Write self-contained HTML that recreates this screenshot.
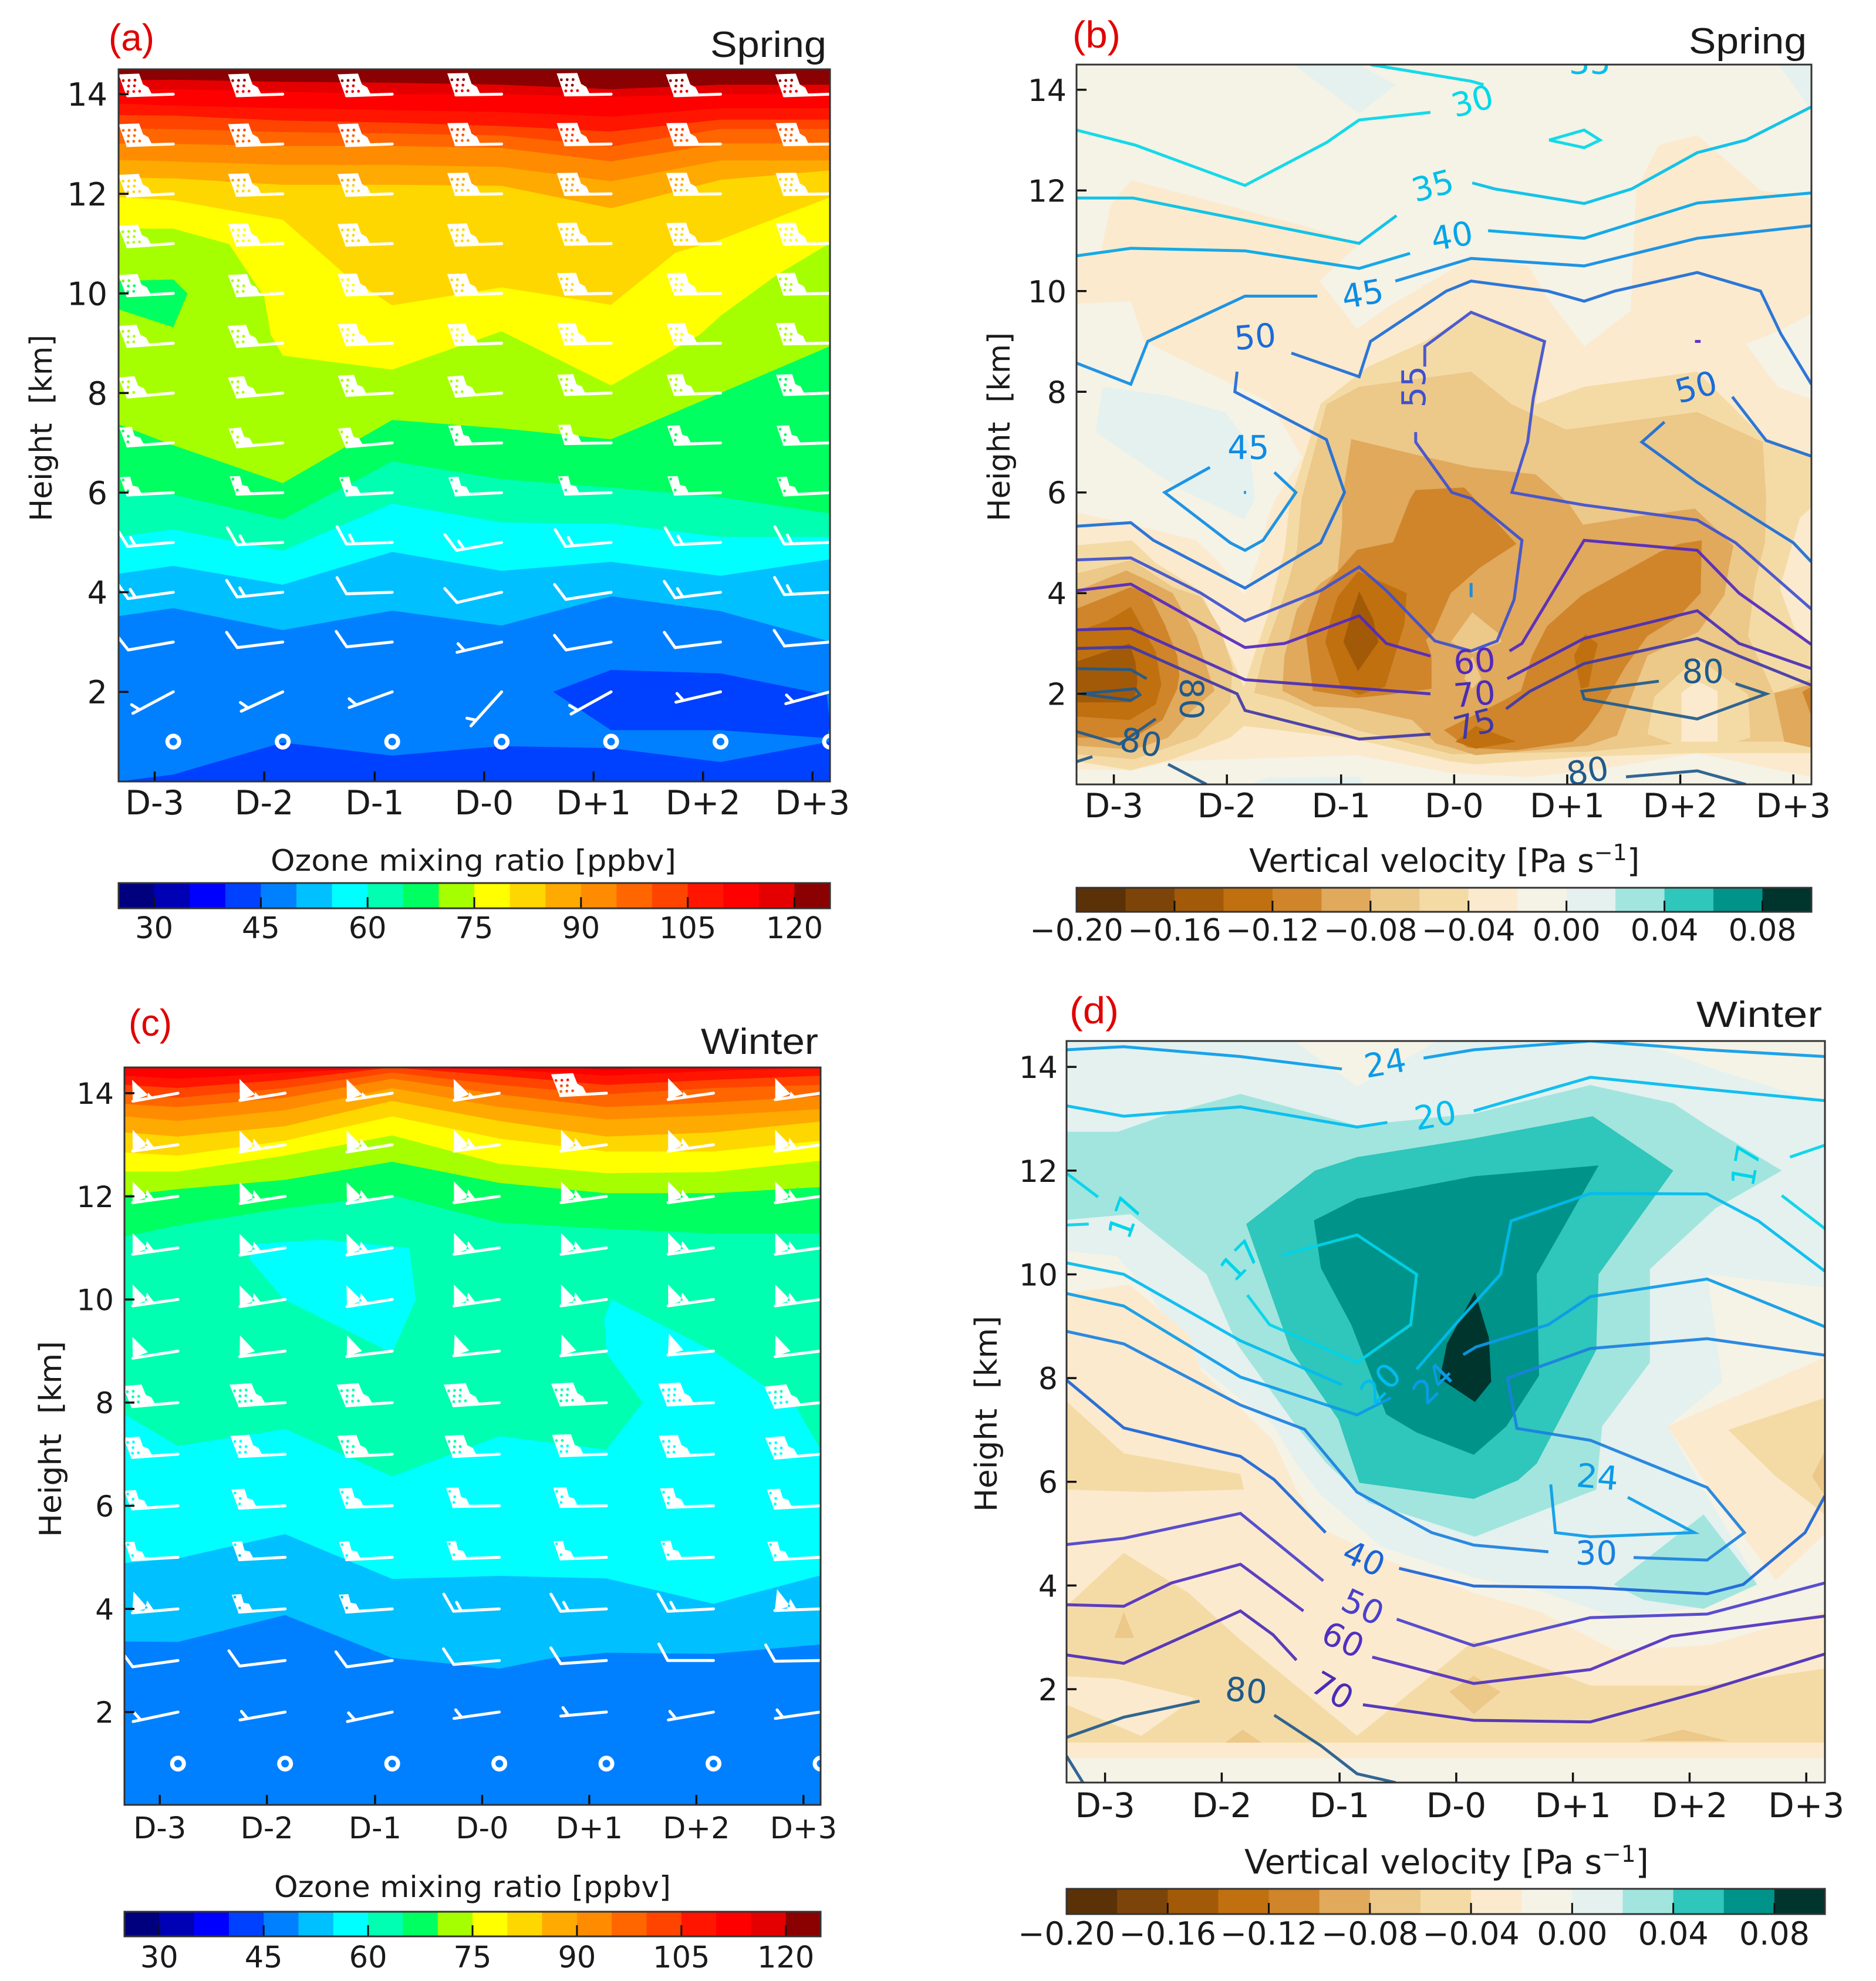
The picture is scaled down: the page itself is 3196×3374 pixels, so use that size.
<!DOCTYPE html>
<html lang="en">
<head>
<meta charset="utf-8">
<title>Ozone mixing ratio and vertical velocity composites</title>
<style>
html,body{margin:0;padding:0;background:#fff}
svg{display:block}
text{font-family:"DejaVu Sans","Liberation Sans",sans-serif;fill:#1a1a1a}
.cal{font-family:"Liberation Sans",sans-serif}
.tag{font-family:"Liberation Sans",sans-serif;fill:#e00000}
</style>
</head>
<body>
<svg id="figure" xmlns="http://www.w3.org/2000/svg" width="3196" height="3374" viewBox="0 0 3196 3374">
<rect width="3196" height="3374" fill="#fff"/>
<defs id="clips"></defs>
<g id="panel-a"></g>
<g id="panel-b"></g>
<g id="panel-c"></g>
<g id="panel-d"></g>

<text class="tag" x="185" y="86" font-size="64" textLength="78" lengthAdjust="spacingAndGlyphs">(a)</text>
<text class="tag" x="1827" y="81" font-size="64" textLength="82" lengthAdjust="spacingAndGlyphs">(b)</text>
<text class="tag" x="219" y="1764" font-size="64" textLength="74" lengthAdjust="spacingAndGlyphs">(c)</text>
<text class="tag" x="1822" y="1743" font-size="64" textLength="84" lengthAdjust="spacingAndGlyphs">(d)</text>

<text class="cal" x="1210" y="97" font-size="62" textLength="198" lengthAdjust="spacingAndGlyphs">Spring</text>
<text class="cal" x="2877" y="91" font-size="62" textLength="201" lengthAdjust="spacingAndGlyphs">Spring</text>
<text class="cal" x="1194" y="1795" font-size="62" textLength="200" lengthAdjust="spacingAndGlyphs">Winter</text>
<text class="cal" x="2890" y="1749" font-size="62" textLength="214" lengthAdjust="spacingAndGlyphs">Winter</text>

<text transform="translate(88,729) rotate(-90)" text-anchor="middle" font-size="52" textLength="318" lengthAdjust="spacingAndGlyphs">Height&#160;&#160;[km]</text>
<text transform="translate(1720,727) rotate(-90)" text-anchor="middle" font-size="52" textLength="322" lengthAdjust="spacingAndGlyphs">Height&#160;&#160;[km]</text>
<text transform="translate(104,2451) rotate(-90)" text-anchor="middle" font-size="52" textLength="334" lengthAdjust="spacingAndGlyphs">Height&#160;&#160;[km]</text>
<text transform="translate(1698,2408) rotate(-90)" text-anchor="middle" font-size="52" textLength="334" lengthAdjust="spacingAndGlyphs">Height&#160;&#160;[km]</text>

<text x="461" y="1483" font-size="50" textLength="691" lengthAdjust="spacingAndGlyphs">Ozone mixing ratio [ppbv]</text>
<text x="467" y="3231" font-size="50" textLength="676" lengthAdjust="spacingAndGlyphs">Ozone mixing ratio [ppbv]</text>
<text x="2128" y="1485" font-size="55">Vertical velocity [Pa s<tspan dy="-20" font-size="38">−1</tspan><tspan dy="20">]</tspan></text>
<text x="2120" y="3191" font-size="57">Vertical velocity [Pa s<tspan dy="-20" font-size="39">−1</tspan><tspan dy="20">]</tspan></text>
</svg>

<script>
// ---- shared axis data ----
const dayLabels = ['D-3','D-2','D-1','D-0','D+1','D+2','D+3'];
const dayTickAt = [0.83,1.83,2.84,3.84,4.84,5.84,6.84];
const heightTicks = [2,4,6,8,10,12,14];
const columnDays = [0.5,1,2,3,4,5,6,7];
const barbDays = [1,2,3,4,5,6,7];
const barbHeights = [1,2,3,4,5,6,7,8,9,10,11,12,13,14];

// ---- colour scales ----
const ozoneLevels = [25,30,35,40,45,50,55,60,65,70,75,80,85,90,95,100,105,110,115,120,125];
const ozoneColors = ['#00007f','#0000b4','#0000ff','#0040ff','#0080ff','#00c0ff','#00ffff','#00ffb0','#00ff60','#a6ff00','#ffff00','#ffd700','#ffaa00','#ff8c00','#ff6600','#ff4400','#ff1500','#ff0000','#e40000','#8b0000'];
const ozoneCbarTicks = [30,45,60,75,90,105,120];
const omegaLevels = [-0.2,-0.18,-0.16,-0.14,-0.12,-0.1,-0.08,-0.06,-0.04,-0.02,0,0.02,0.04,0.06,0.08,0.1];
const omegaColors = ['#5b3107','#7d440a','#a35a08','#c0700f','#d0852b','#e0a95c','#ecc889','#f4dba6','#fbeace','#f5f2e6','#e4f1ef','#a2e5de','#2fc6bb','#00938a','#00352e'];
const omegaCbarTicks = [-0.2,-0.16,-0.12,-0.08,-0.04,0,0.04,0.08];

// ---- (a) spring ozone: height of each band's upper edge ----
const springOzoneEdges = [
 [120,[14.5,14.5,14.5,14.5,14.5,14.5,14.5,14.5]],
 [115,[14.28,14.29,14.25,14.23,14.19,14.1,14.19,14.19]],
 [110,[14.09,14.1,14.05,14,14,13.95,14,14]],
 [105,[13.81,13.77,13.72,13.68,13.64,13.55,13.72,13.72]],
 [100,[13.58,13.57,13.47,13.43,13.36,13.25,13.49,13.49]],
 [95,[13.31,13.3,13.24,13.21,13.17,12.95,13.3,13.3]],
 [90,[13.01,13,12.96,12.96,12.92,12.65,13.01,13.01]],
 [85,[12.68,12.65,12.58,12.58,12.54,12.25,12.67,12.67]],
 [80,[12.32,12.31,12.18,12.18,12.16,11.71,12.28,12.47]],
 [75,[[0.5,11.93],[1,11.87],[2,11.48],[2.57,10.38],[3,9.76],[4,10.12],[5,9.77],[5.59,10.82],[6,11.08],[7,11.93]]],
 [70,[[0.5,11.3],[1,11.3],[1.51,10.99],[1.83,9.93],[1.89,9.17],[2,8.75],[3,8.47],[4,9.24],[5,8.15],[5.81,9.17],[6,9.55],[6.52,10.38],[7,11.01]]],
 [65,[7.37,6.95,6.19,7.46,7.29,7.07,8,8.94]],
 [60,[5.99,5.96,5.46,6.63,6.27,6.1,5.91,5.58]],
 [55,[5.11,5.26,4.83,5.78,5.4,5.38,5.11,5.11]],
 [50,[4.37,4.53,4.15,4.81,4.43,4.61,4.33,4.66]],
 [45,[3.52,3.68,3.24,3.63,3.33,3.92,3.62,3.01]],
 [40,[0.2,0.34,0.98,0.72,0.91,0.87,0.59,1]]
];
const springOzoneIslands = [
 [65,[[0.5,10.25],[1,10.28],[1.13,10],[1,9.32],[0.5,9.68]]],
 [40,[[4.47,2],[5,2.44],[6,2.37],[6.97,1.94],[7,1.35],[6.97,1.07],[6,1.23],[5,1.23]]]
];
const springBarbSpeeds = [
 [0,0,0,0,0,0,0],[5,5,5,5,5,5,5],[10,10,10,5,10,10,10],[15,15,10,10,10,15,15],[15,15,15,15,15,15,15],
 [110,110,110,110,110,110,110],[125,125,125,125,125,125,125],[150,150,150,150,150,150,150],[165,165,165,165,165,165,165],
 [170,170,170,170,170,170,170],[175,175,175,175,175,175,175],[180,180,180,180,180,180,180],[180,180,180,180,180,180,180],[180,180,180,180,180,180,180]
];
const springBarbTilts = [
 [0,0,0,0,0,0,0],[28,25,20,48,29,13,15],[10,7,6,13,10,7,5],[8,6,2,13,9,7,3],[5,3,2,10,5,3,2],
 [3,2,3,3,2,2,3],[4,5,5,2,1,2,2],[5,5,3,4,2,2,2],[4,4,2,2,1,1,1],[3,3,2,2,1,1,1],[4,2,2,2,1,1,1],[3,2,2,1,1,1,1],[2,2,2,1,1,1,1],[2,2,2,1,1,2,2]
];

// ---- (c) winter ozone ----
const winterOzoneEdges = [
 [110,[14.5,14.5,14.5,14.5,14.5,14.5,14.5,14.5]],
 [105,[14.34,14.28,14.4,14.5,14.46,14.34,14.43,14.5]],
 [100,[14.16,14.1,14.26,14.5,14.34,14.16,14.26,14.34]],
 [95,[13.98,13.91,14.1,14.4,14.16,13.98,14.1,14.16]],
 [90,[13.79,13.73,13.91,14.28,13.98,13.73,13.82,13.94]],
 [85,[13.55,13.46,13.67,14.1,13.73,13.49,13.57,13.69]],
 [80,[13.24,13.16,13.36,13.85,13.46,13.16,13.24,13.45]],
 [75,[12.85,12.79,13.08,13.55,13.12,12.87,12.87,13.08]],
 [70,[12.48,12.48,12.79,13.18,12.63,12.45,12.47,12.69]],
 [65,[12.02,12.14,12.32,12.67,12.26,12.06,12.06,12.18]],
 [60,[11.22,11.44,11.77,12.02,11.49,11.37,11.28,11.28]],
 [55,[[0.5,7.77],[1,7.16],[2,7.49],[3,6.57],[4,7.35],[5,7.09],[5.34,8],[5,8.96],[4.98,9.63],[5.05,10],[6,9],[6.54,8.23],[6.77,7.92],[7,7.09]]],
 [50,[4.89,4.98,5.45,4.58,4.64,4.59,4.1,4.65]],
 [45,[[0.5,3.37],[1,3.36],[2,3.88],[3,3.05],[4,2.84],[4.5,3.05],[5,3.15],[6,3.13],[7,3.31]]]
];
const winterOzoneIslands = [
 [55,[[1.66,10.8],[1.74,11.08],[2.35,11.16],[3.16,11],[3.22,10],[3,8.96],[1.99,10]]],
 [115,[[4.7,14.5],[5,14.44],[5.4,14.5]]]
];
const winterBarbSpeeds = [
 [0,0,0,0,0,0,0],[5,5,5,5,5,5,5],[10,10,10,10,10,10,10],[60,105,105,15,15,15,60],[105,110,110,105,105,110,110],
 [120,130,130,125,130,130,130],[150,170,170,170,170,170,170],[170,190,190,190,190,190,190],[50,50,50,50,50,50,50],
 [60,60,60,60,60,60,60],[60,60,60,60,60,60,60],[60,60,60,60,60,60,60],[60,60,60,60,60,60,60],[55,55,55,55,190,55,55]
];
const winterBarbTilts = [
 [0,0,0,0,0,0,0],[12,10,12,8,5,10,8],[8,7,8,5,4,0,1],[5,4,4,3,3,3,2],[3,3,3,2,2,2,3],[4,3,2,1,1,2,3],[4,3,3,3,2,3,5],
 [5,4,4,4,3,3,6],[9,7,7,6,6,5,7],[8,9,9,8,8,8,8],[8,9,9,8,8,8,8],[8,9,9,8,8,8,8],[8,9,9,8,8,8,8],[10,9,9,9,3,8,8]
];

// ---- (b) spring vertical velocity: filled regions, painted in order ----
const springOmegaRegions = [
 [-0.04,[[0.5,10.75],[0.72,10.8],[0.8,11.7],[0.98,12.2],[1.5,11.9],[2,11.6],[2.5,11.3],[3,10.95],[2.65,10.2],[2.98,9.25],[3.3,9.75],[3.99,10.65],[4.5,10.5],[4.65,9.9],[4.99,8.9],[5.4,9.6],[5.45,12],[5.65,12.9],[5.99,13.1],[6.55,12],[7,11.85],[7,0.2],[0.5,0.2]]],
 [-0.02,[[0.5,9.75],[0.98,9.8],[1.1,9],[1.6,8.45],[2.2,7.8],[2.5,6.7],[2.26,5.87],[2.19,5.48],[2.11,4.7],[1.98,3.96],[1.75,4.63],[1.56,5.05],[1,5.36],[0.5,5.6]]],
 [-0.02,[[6.42,8.95],[6.7,9.2],[7,9.55],[7,7.85],[6.7,8.1]]],
 [-0.02,[[0.5,0.2],[0.5,0.5],[0.98,0.48],[1.35,0.66],[1.86,0.7],[2.98,0.78],[3.8,0.43],[4.03,0.4],[4.5,0.35],[5.02,0.47],[5.99,0.82],[6.82,0.43],[7,0.35],[7,0.2]]],
 [0,[[2.42,14.5],[3,13.53],[3.32,14.1],[3,14.5]]],
 [0,[[6.71,14.5],[7,13.6],[7,14.5]]],
 [0,[[0.73,8.1],[0.67,7.2],[1.39,6.1],[1.98,5.47],[2.08,5.87],[2.02,7],[1.81,7.6],[1.28,7.93]]],
 [0,[[2.03,0.2],[2.2,0.33],[3,0.35],[3.04,0.2]]],
 [-0.06,[[0.5,4.95],[0.99,5.05],[1.2,4.6],[1.6,4.04],[1.86,2.76],[1.98,2.14],[2.07,2.76],[2.19,3.54],[2.34,4.86],[2.39,5.87],[2.45,6.25],[2.66,7.76],[3.08,8.5],[3.58,9],[3.99,9.58],[4.64,9],[4.56,7.75],[4.99,8.1],[5.99,8.4],[6.57,7.1],[7,6.75],[7,0.82],[5.99,0.82],[5,0.75],[4.03,0.6],[3.8,0.66],[2.98,1.09],[1.98,1.36],[1.86,1.13],[1.35,0.7],[0.98,0.48],[0.5,0.66]]],
 [-0.04,[[6.9,5.5],[7,5.7],[7,3],[6.85,3.3],[6.72,4.1]]],
 [-0.08,[[0.5,4.39],[0.99,4.66],[1.35,4.12],[1.6,3.93],[1.77,3.3],[1.88,2.53],[1.86,1.83],[1.56,1.13],[1.01,0.7],[0.5,0.8]]],
 [-0.08,[[2.07,2.02],[2.15,2.76],[2.24,3.34],[2.36,4.12],[2.45,4.86],[2.49,5.87],[2.71,7.75],[3,8.1],[3.99,8.4],[4.35,7.75],[4.83,7.25],[5.99,7.6],[6.57,7],[6.6,5.87],[6.59,5.01],[6.5,4.2],[6.44,3.15],[6.67,2],[7,2.3],[7,0.93],[6.76,1.05],[5.99,1.05],[5.02,0.85],[3.82,0.8],[2.98,1.28],[2.34,1.87]]],
 [-0.1,[[0.5,4.04],[0.94,4.45],[1.14,4.24],[1.35,4],[1.56,3.15],[1.72,2.06],[1.52,1.67],[1.31,1.13],[1.01,0.89],[0.5,0.97]]],
 [-0.1,[[2.93,7.06],[3.5,6.75],[3.99,6.5],[4.56,6.36],[4.85,5.79],[4.98,5.36],[5.44,5.52],[5.97,5.68],[6.31,4.94],[6.27,4.51],[6.23,3.96],[6,3.23],[5.55,2.76],[5.42,2.02],[5.28,1.17],[5.02,0.97],[4.03,0.78],[3.82,0.93],[3.68,1.01],[3.47,1.48],[3,1.71],[2.6,1.75],[2.32,2.06],[2.34,2.76],[2.45,3.69],[2.66,4.2],[2.81,4.43],[2.85,5.36],[2.85,5.87]]],
 [-0.1,[[6.67,2.02],[7,2.18],[7,0.93],[6.76,1.05]]],
 [-0.08,[[4,3.62],[4.23,3.2],[4.26,3.03],[4,2.8],[3.81,3.03]]],
 [-0.08,[[4,2.75],[4.08,2.3],[4,2.1],[3.93,2.3]]],
 [-0.06,[[5.61,1.94],[5.99,2.72],[6.44,1.98],[6.46,1.13],[5.99,0.82],[5.55,1.2]]],
 [-0.04,[[5.85,2.02],[5.99,2.25],[6.17,2.05],[6.17,1.05],[5.85,1.05]]],
 [-0.12,[[0.5,3.69],[0.98,4.12],[1.14,4],[1.28,3.38],[1.39,2.76],[1.41,2.37],[1.39,2.1],[1.26,1.48],[1.01,1.13],[0.5,1.13]]],
 [-0.12,[[3.5,6.05],[3.93,6.1],[4.39,4.98],[4.07,4.51],[3.81,4],[3.75,3.69],[3.66,3.23],[3.59,3.07],[3.64,2.76],[3.64,2.1],[3.25,1.98],[2.98,1.92],[2.59,2.06],[2.53,3.15],[2.66,4.04],[2.98,4.86],[3.3,5.01],[3.45,5.87]]],
 [-0.12,[[3.75,1.28],[4.28,1.87],[4.43,2.06],[4.53,2.76],[4.66,3.34],[4.97,3.96],[5.66,4.82],[5.83,4.98],[6.03,5.05],[6.02,4],[5.83,3.54],[5.55,3.15],[5.36,2.56],[5.13,1.67],[5.02,1.32],[4.89,1.05],[4.39,0.88],[3.96,0.93]]],
 [-0.12,[[6.92,2.04],[7,2.14],[7,1.55]]],
 [-0.14,[[0.5,3.23],[0.78,3.46],[0.98,3.73],[1.2,2.84],[1.25,2.18],[1.2,1.79],[0.97,1.48],[0.5,1.55]]],
 [-0.14,[[2.81,3.93],[2.99,4.43],[3.42,4],[3.4,3.38],[3.34,2.95],[3.23,2.14],[3,1.98],[2.83,2.18],[2.7,3.03],[2.75,3.5]]],
 [-0.14,[[5,3.19],[5.11,2.99],[5.07,2.64],[5.03,2.14],[4.96,2.1],[4.9,2.76]]],
 [-0.14,[[3.85,1.05],[4.03,1.36],[4.39,1.05],[4.03,0.91]]],
 [-0.16,[[0.5,2.64],[0.97,3],[1.02,2.64],[1.04,2.25],[1.02,1.98],[0.98,1.83],[0.5,1.83]]],
 [-0.16,[[3,4.04],[3.12,3.5],[3.17,3.03],[2.99,2.45],[2.86,3.03],[2.93,3.58]]]
];
const springLineValues = [30,30,30,35,35,40,40,45,45,50,50,45,50,50,55,55,60,60,70,70,75,75,80,80,80,80,80,80,80,45,60,45];
const springLinePaths = [
 [[3.1,14.5],[3.99,14.17],[4.1,14.1]],
 [[0.5,13.2],[1.02,12.9],[1.99,12.1],[2.71,12.95],[3,13.4],[3.63,13.55]],
 [[4.68,13],[4.99,13.2],[5.13,13],[4.99,12.85],[4.68,13]],
 [[0.5,11.85],[1,11.85],[3,10.95],[3.33,11.5]],
 [[4,12.15],[4.2,12.03],[4.99,11.74],[5.41,12.03],[5.99,12.75],[6.42,13],[7,13.66]],
 [[0.5,10.7],[0.98,10.85],[1.99,10.8],[3,10.45],[3.45,10.75]],
 [[4.14,11.2],[4.99,11.05],[5.99,11.75],[7,11.95]],
 [[3.32,10.2],[3.99,10.65],[4.99,10.5],[5.99,11.05],[7,11.3]],
 [[0.5,8.57],[0.98,8.15],[1.13,9],[1.99,9.9],[2.63,9.9]],
 [[2.4,8.77],[3,8.3],[3.1,9],[3.77,10],[3.99,10.2],[4.67,10],[4.99,9.8],[5.26,10],[5.99,10.37],[6.55,10],[6.73,9.15],[7,8.15]],
 [[1.92,8.4],[1.9,8],[2.71,7.05],[2.87,6],[2.66,5],[1.99,4.1],[1.18,5.05],[0.98,5.4],[0.5,5.33]],
 [[1.68,6.5],[1.28,6],[1.86,5],[1.99,4.85],[2.15,5.05],[2.44,6],[2.25,6.4]],
 [[5.7,7.4],[5.5,7],[5.99,6.2],[6.84,5],[7,4.62]],
 [[6.3,7.9],[6.6,7.03],[7,6.72]],
 [[3.58,8.5],[3.58,8.9],[3.99,9.58],[4.64,9],[4.54,7.88],[4.49,7],[4.35,6],[4.99,5.75],[5.99,5.45],[6.33,5],[7,3.68]],
 [[0.5,4.66],[0.98,4.7],[1.6,4],[1.99,3.45],[2.66,4.05],[3,4.52],[3.24,4.05],[3.67,3.05],[3.99,2.85],[4.22,3.05],[4.37,3.87],[4.44,5.05],[3.99,5.88],[3.82,6],[3.5,7],[3.5,7.2]],
 [[0.5,4.05],[0.98,4.18],[1.6,3.4],[1.99,2.92],[2.34,3],[3,3.55],[3.24,3],[3.63,2.75]],
 [[4.33,2.85],[4.44,3],[4.99,5.05],[5.99,4.85],[6.36,4],[7,2.98]],
 [[0.5,3.27],[0.98,3.3],[1.99,2.28],[3.63,2]],
 [[4.31,2.3],[4.99,3.1],[5.99,3.65],[6.36,3],[7,2.5]],
 [[0.5,2.9],[0.98,2.93],[1.92,2],[1.99,1.67],[3,1.1],[3.63,1.2]],
 [[4.3,1.7],[4.51,2.05],[4.99,2.6],[5.99,3.1],[6.36,2.75],[7,2.17]],
 [[0.54,2],[1.02,2.1],[1.06,1.98],[0.98,1.87],[0.54,2]],
 [[0.5,2.5],[0.98,2.48],[1.12,2.3]],
 [[0.5,1.25],[0.88,1],[1.2,1.5]],
 [[0.5,0.65],[0.64,0.75]],
 [[1.31,0.6],[1.65,0.2]],
 [[5.65,2.25],[4.97,2.05],[4.99,1.9],[5.99,1.5],[6.6,2],[6.33,2.2]],
 [[5.36,0.35],[5.99,0.47],[6.42,0.2]],
 [[3.99,4.2],[3.99,3.92]],
 [[5.97,9],[6.02,9]],
 [[1.98,6],[2,6]]
];
const springLineLabels = [
 ['30',4,13.78,-15,30],['35',3.65,12.1,-15,35],['40',3.82,11.1,-10,40],['45',3.03,9.95,-10,45],['50',2.08,9.1,-5,50],
 ['55',3.48,8.1,-90,55],['45',2.02,6.9,0,45],['50',5.98,8.1,-15,50],['60',4.02,2.65,-5,60],['70',4.02,2,-5,70],
 ['75',4.02,1.4,-15,75],['80',1.52,1.9,90,80],['80',1.07,1.04,10,80],['80',5.02,0.47,-10,80],['80',6.04,2.45,0,80],['35',5.04,14.55,0,35]
];
const springLineColorKeys = [30,35,40,45,50,55,60,70,75,80];
const springLineColors = ['#00d8e8','#00bfe8','#00a4e8','#0c8ce4','#1a6cd8','#3e50d0','#5228c0','#4a2cb8','#4038a8','#1f5a8c'];

// ---- (d) winter vertical velocity ----
const winterOmegaRegions = [
 [0,[[0.5,14.5],[2.45,14.5],[2.99,13.62],[3.68,14.5],[5.4,14.5],[6.06,13.95],[6.99,13.3],[7,11],[7,9.75],[5.99,10],[6.12,7.93],[5.65,7.07],[5.96,5.85],[6.42,4.08],[6.01,3.6],[5.2,3.4],[4.55,3.9],[4,4.15],[3.2,4.75],[2.68,5.75],[2.47,6.35],[2.27,7.1],[1.6,8.3],[1.19,9.7],[0.93,10.35],[0.5,10.45]]],
 [-0.04,[[0.5,9.63],[1.04,9.8],[1.55,8.83],[1.65,8.15],[2.27,6.8],[2.47,5.85],[2.68,5.1],[3.24,4.5],[4,3.85],[4.55,3.5],[5.2,2.75],[6.01,2.85],[7,3.5],[7,0.67],[0.5,0.67]]],
 [-0.04,[[7,8.4],[5.65,7.07],[6.17,5.35],[6.58,4.1],[7,5]]],
 [-0.06,[[0.5,7.55],[0.99,6.55],[1.99,6.15],[2.02,5.85],[1.2,5.8],[0.5,5.85]]],
 [-0.06,[[0.5,3.6],[0.99,4.63],[1.55,3.85],[1.99,2.95],[2.99,1.1],[3.99,2.93],[4.99,2.07],[5.99,2.07],[7,2.4],[7,0.97],[0.5,0.97],[0.5,1.7],[1.14,1.1],[1.6,1.83],[0.93,2.2],[0.5,2.25]]],
 [-0.06,[[6.17,7],[7,7.62],[7,5.37],[6.58,6.1]]],
 [-0.08,[[6.89,6.1],[7,6.6],[7,5.73]]],
 [-0.08,[[0.91,2.99],[0.99,3.49],[1.08,2.99]]],
 [-0.08,[[3.78,1.95],[3.99,2.26],[4.22,1.95],[3.99,1.52]]],
 [-0.08,[[1.86,0.97],[2.01,1.22],[2.17,0.97]]],
 [-0.08,[[5.4,1],[5.78,1.22],[6.17,1]]],
 [0.02,[[0.5,12.75],[0.94,12.75],[1.45,13.15],[1.99,13.48],[2.99,12.87],[3.99,13.1],[4.99,13.65],[5.7,13.3],[5.99,12.87],[6.63,12],[6.06,11.27],[5.5,10.1],[5.5,9.15],[5.5,8.3],[5.09,7.07],[5.04,5.85],[4,4.94],[3.09,5.6],[2.73,6.35],[2.47,7.07],[1.96,8.66],[1.7,10],[1.05,11.16],[0.5,11.05]]],
 [0.02,[[5.19,4.02],[5.96,5.37],[6.42,4.02],[5.96,3.55],[5.45,3.72]]],
 [0.04,[[2.04,10.97],[2.63,12],[2.99,12.26],[3.99,12.62],[5.01,13.05],[5.7,12],[5.06,10],[5.04,8.54],[4.53,6.35],[4.37,6.03],[3.99,5.67],[3.01,5.98],[2.83,7.2],[2.42,8.54]]],
 [0.06,[[2.62,11.04],[2.99,11.46],[3.99,11.89],[5.06,12.1],[4.53,10],[4.55,8.05],[4.27,7.07],[3.99,6.52],[3.5,6.95],[3.24,7.3],[2.94,9.03],[2.68,10.12]]],
 [0.08,[[4,9.66],[4.12,8.78],[4.14,7.93],[4,7.54],[3.7,7.99],[3.76,8.66]]]
];
const winterLineValues = [24,24,20,20,17,17,17,17,17,20,20,24,24,30,30,24,40,40,50,50,60,60,70,70,80,80,80];
const winterLinePaths = [
 [[0.5,14.33],[0.99,14.39],[1.99,14.2],[2.86,13.96]],
 [[3.56,14.17],[3.99,14.33],[4.99,14.5],[5.99,14.33],[7,14.2]],
 [[0.5,13.25],[0.99,13.05],[1.99,13.23],[2.99,12.84],[3.25,12.93]],
 [[3.99,13.15],[4.99,13.8],[5.99,13.57],[7,13.35]],
 [[0.5,11.95],[0.77,11.49]],
 [[0.5,10.95],[0.69,10.97]],
 [[2.35,10.37],[2.99,10.76],[3.5,10],[3.45,9.03],[2.99,8.3],[2.24,9.03],[2.05,9.6]],
 [[6.7,12.26],[7,12.49]],
 [[6.63,11.52],[7,10.88]],
 [[0.5,10.22],[0.99,10],[1.99,8.72],[2.86,7.87]],
 [[3.5,8.17],[3.83,9.03],[4.22,10],[4.31,11.03],[4.99,11.56],[5.99,11.55],[6.43,11.03],[7,10.06]],
 [[0.5,9.63],[0.99,9.39],[1.99,8.02],[2.99,7.29],[3.28,7.62]],
 [[3.9,8.45],[4.01,8.6],[4.63,9.03],[4.99,9.57],[5.99,9.91],[7,8.99]],
 [[0.5,8.9],[0.99,8.66],[1.99,7.48],[2.54,7.01],[2.99,5.8],[3.63,5.02],[3.99,4.78],[4.63,4.65]],
 [[5.36,4.54],[5.99,4.49],[6.31,5.02],[5.99,5.89],[4.99,6.8],[4.36,7.03],[4.28,8],[4.99,8.57],[5.99,8.76],[7,8.44]],
 [[4.65,5.95],[4.69,5.02],[4.99,4.94],[5.88,5.02],[5.31,5.7]],
 [[0.5,7.96],[0.99,7.04],[1.99,6.49],[2.28,6.04],[2.72,5.02]],
 [[3.35,4.33],[3.99,3.99],[4.99,3.96],[5.99,3.84],[6.3,4.02],[6.83,5.02],[7,5.73]],
 [[0.5,4.79],[0.99,4.91],[1.99,5.39],[2.7,4.09]],
 [[3.33,3.35],[3.99,2.84],[4.99,3.38],[5.99,3.45],[7,4.05]],
 [[0.5,3.63],[0.99,3.6],[1.4,4.05],[1.99,4.41],[2.53,3.51]],
 [[3.12,2.62],[3.99,2.11],[4.99,2.38],[5.68,3.02],[7,3.41]],
 [[0.5,2.66],[0.99,2.5],[1.99,3.51],[2.27,3.05],[2.47,2.56]],
 [[3.04,1.7],[3.99,1.4],[4.99,1.37],[5.99,1.98],[7,2.68]],
 [[0.5,1.07],[0.99,1.46],[1.64,1.77]],
 [[2.28,1.5],[2.68,0.91],[2.99,0.37],[3.32,0.2]],
 [[0.5,0.71],[0.64,0.2]]
];
const winterLineLabels = [
 ['24',3.23,14.08,-10,24],['20',3.66,13.07,-10,20],['17',1,11.1,-70,17],['17',1.99,10.27,-45,17],['17',6.32,12.1,-80,17],
 ['20',3.19,7.9,-45,20],['24',3.64,7.9,-45,24],['24',5.05,6.1,5,24],['30',5.04,4.63,0,30],['40',3.05,4.53,25,40],
 ['50',3.04,3.59,25,50],['60',2.87,2.96,25,60],['70',2.78,1.98,30,70],['80',2.04,1.98,5,80]
];
const winterLineColorKeys = [17,20,24,30,40,50,60,70,80];
const winterLineColors = ['#00d4ea','#00bcf0','#0a9be8','#1a80e0','#1a64d8','#4a40cc','#5030c0','#4a2cb8','#1f5a8c'];

// ---- drawing ----
const NS = 'http://www.w3.org/2000/svg';
function make(parent, tag, attrs){
  const el = document.createElementNS(NS, tag);
  for (const k in attrs) el.setAttribute(k, attrs[k]);
  parent.appendChild(el);
  return el;
}
function scales(box){
  return {
    x: d => box.left + (d-0.5)/6.5*(box.right-box.left),
    y: h => box.top + (14.5-h)/14.3*(box.bottom-box.top)
  };
}
function pathOf(pts, s, close){
  return pts.map((p,i)=>(i?'L':'M')+s.x(p[0]).toFixed(1)+' '+s.y(p[1]).toFixed(1)).join('')+(close?'Z':'');
}
function toPoints(edge){
  return typeof edge[0]==='number' ? edge.map((h,i)=>[columnDays[i],h]) : edge;
}
function drawEdges(g, s, box, edges, islands){
  const top = edges[0][0];
  const bg = make(g,'rect',{x:box.left,y:box.top,width:box.right-box.left,height:box.bottom-box.top,fill:ozoneColors[ozoneLevels.indexOf(top)]});
  
  
  edges.slice(1).forEach(e=>{
    const pts = toPoints(e[1]);
    const closed = pts.concat([[7,0.2],[0.5,0.2]]);
    const band = make(g,'path',{d:pathOf(closed,s,true),fill:ozoneColors[ozoneLevels.indexOf(e[0])]});
    
    
  });
  islands.forEach(e=>{
    const isle = make(g,'path',{d:pathOf(e[1],s,true),fill:ozoneColors[ozoneLevels.indexOf(e[0])]});
    
    
  });
}
function omegaColor(v){
  let best = 0;
  omegaLevels.forEach((l,i)=>{ if(Math.abs(l-v)<Math.abs(omegaLevels[best]-v)) best=i; });
  return omegaColors[best];
}
function drawRegions(g, s, box, regions){
  const bg = make(g,'rect',{x:box.left,y:box.top,width:box.right-box.left,height:box.bottom-box.top,fill:omegaColor(-0.02)});
  
  
  regions.forEach(r=>{
    const reg = make(g,'path',{d:pathOf(r[1],s,true),fill:omegaColor(r[0])});
    
    
  });
}
function drawContours(g, s, values, paths, labels, keys, colors){
  const colorOf = v => colors[keys.indexOf(v)];
  paths.forEach((p,i)=>{
    const line = make(g,'path',{d:pathOf(p,s,false),fill:'none',stroke:colorOf(values[i]),'stroke-width':5,'stroke-linejoin':'miter','stroke-opacity':0.92});
    
    
  });
  labels.forEach(l=>{
    const t = make(g,'text',{x:0,y:0,'text-anchor':'middle','font-size':56,transform:'translate('+s.x(l[1]).toFixed(1)+','+s.y(l[2]).toFixed(1)+') rotate('+l[3]+') translate(0,20)',style:'fill:'+colorOf(l[4])});
    t.textContent = l[0];
    
    
  });
}
function drawBarbs(g, s, speeds, tilts){
  const white = '#ffffff';
  barbHeights.forEach((h,r)=>{
    barbDays.forEach((d,c)=>{
      const sp = speeds[r][c], th = tilts[r][c]*Math.PI/180;
      const tx = s.x(d), ty = s.y(h);
      if (sp < 3){
        const ring = make(g,'circle',{cx:tx,cy:ty,r:10,fill:'none',stroke:white,'stroke-width':7});
        
        
        return;
      }
      const ux = Math.cos(th), uy = -Math.sin(th);   // along the shaft, root to tip
      const nx = uy, ny = -ux;                       // perpendicular, pointing up
      const L = 78;
      const rx = tx-ux*L, ry = ty-uy*L;
      const at = (a,b)=>[rx+ux*a+nx*b, ry+uy*a+ny*b];
      const seg = (p)=>p.map((q,i)=>(i?'L':'M')+q[0].toFixed(1)+' '+q[1].toFixed(1)).join('');
      let d1 = 'M'+rx.toFixed(1)+' '+ry.toFixed(1)+'L'+tx.toFixed(1)+' '+ty.toFixed(1);
      let fillD = '';
      if (sp === 5) d1 += seg([at(13,0),at(5,14)]);
      else if (sp === 10) d1 += seg([at(0,0),at(-15,28)]);
      else if (sp === 15) d1 += seg([at(0,0),at(-15,30)]) + seg([at(13,0),at(6,15)]);
      else if (sp >= 50 && sp < 100){
        fillD = seg([at(0,0),at(5,36),at(27,6)])+'Z';
        if (sp >= 60) fillD += seg([at(20,0),at(27,19),at(37,1)])+'Z';
        else if (sp === 55) fillD += seg([at(24,0),at(28,10),at(34,1)])+'Z';
      } else if (sp >= 100){
        const k = (sp-100)/80;
        const w = 14+20*k, hh = 30+7*Math.min(k,1), lean = -11-3*k;
        const tw = w-8;
        const pts = [at(-2,0),at(w+8,0),at(w+2,Math.min(13,hh)),at(tw+1,hh*0.5),at(tw+lean+9,hh),at(lean,hh)];
        fillD = seg(pts)+'Z';
        for (let row=0; row<3; row++){
          for (let col=0; col<4; col++){
            const fy = 7+row*9.5;
            const fx = (lean/hh)*fy + 3.5 + col*10 + (row%2)*5;
            if (fx > tw+(lean/hh)*fy-1 || fy > hh-3) continue;
            const p = at(fx,fy);
            fillD += 'M'+(p[0]-2.4).toFixed(1)+' '+p[1].toFixed(1)+'a2.4 2.4 0 1 0 4.8 0a2.4 2.4 0 1 0 -4.8 0Z';
          }
        }
      }
      const shaft = make(g,'path',{d:d1,fill:'none',stroke:white,'stroke-width':5,'stroke-linecap':'round','stroke-linejoin':'round'});
      
      
      if (fillD){
        const flag = make(g,'path',{d:fillD,fill:white,'fill-rule':'evenodd'});
        
        
      }
    });
  });
}
function drawAxes(g, s, box, f){
  heightTicks.forEach(h=>{
    const y = s.y(h);
    const tick = make(g,'line',{x1:box.left,x2:box.left+17,y1:y,y2:y,stroke:'#111','stroke-width':3.5});
    
    
    const t = make(g,'text',{x:box.left-f.yPad,y:y+f.yFont*0.365,'text-anchor':'end','font-size':f.yFont});
    t.textContent = h;
    
    
  });
  dayTickAt.forEach((d,i)=>{
    const x = s.x(d);
    const tick = make(g,'line',{x1:x,x2:x,y1:box.bottom,y2:box.bottom-17,stroke:'#111','stroke-width':3.5});
    
    
    const t = make(g,'text',{x:x,y:f.xBase,'text-anchor':'middle','font-size':f.xFont});
    t.textContent = dayLabels[i];
    
    
  });
  const spine = make(g,'rect',{x:box.left,y:box.top,width:box.right-box.left,height:box.bottom-box.top,fill:'none',stroke:'#333','stroke-width':3});
  
  
}
function drawColorbar(g, c, levels, colors, ticks, fmt){
  const X = v => c.left + (v-levels[0])/(levels[levels.length-1]-levels[0])*(c.right-c.left);
  colors.forEach((col,i)=>{
    const seg = make(g,'rect',{x:X(levels[i]),y:c.top,width:X(levels[i+1])-X(levels[i])+0.6,height:c.bottom-c.top,fill:col});
    
    
  });
  ticks.forEach(v=>{
    const tick = make(g,'line',{x1:X(v),x2:X(v),y1:c.bottom,y2:c.bottom-19,stroke:'#111','stroke-width':3});
    
    
    const t = make(g,'text',{x:X(v),y:c.base,'text-anchor':'middle','font-size':c.font});
    t.textContent = fmt(v);
    
    
  });
  const frame = make(g,'rect',{x:c.left,y:c.top,width:c.right-c.left,height:c.bottom-c.top,fill:'none',stroke:'#333','stroke-width':3});
  
  
}
function plotGroup(id, box){
  const g = document.getElementById('panel-'+id);
  const clip = make(document.getElementById('clips'),'clipPath',{id:'clip-'+id});
  make(clip,'rect',{x:box.left,y:box.top,width:box.right-box.left,height:box.bottom-box.top});
  const plot = make(g,'g',{'clip-path':'url(#clip-'+id+')'});
  
  
  return {g, plot};
}
const fmtOzone = v => String(v);
const fmtOmega = v => (v<0?'\u2212':'')+Math.abs(v).toFixed(2);

// panel a
(function(){
  const box = {left:202,right:1414,top:118,bottom:1331};
  const s = scales(box), p = plotGroup('a',box);
  drawEdges(p.plot,s,box,springOzoneEdges,springOzoneIslands);
  drawBarbs(p.plot,s,springBarbSpeeds,springBarbTilts);
  drawAxes(p.g,s,box,{yPad:19,yFont:54,xFont:57,xBase:1387});
  drawColorbar(p.g,{left:202,right:1414,top:1504,bottom:1547,base:1598,font:51},ozoneLevels,ozoneColors,ozoneCbarTicks,fmtOzone);
})();
// panel b
(function(){
  const box = {left:1834,right:3086,top:110,bottom:1336};
  const s = scales(box), p = plotGroup('b',box);
  drawRegions(p.plot,s,box,springOmegaRegions);
  drawContours(p.plot,s,springLineValues,springLinePaths,springLineLabels,springLineColorKeys,springLineColors);
  drawAxes(p.g,s,box,{yPad:17,yFont:52,xFont:57,xBase:1392});
  drawColorbar(p.g,{left:1834,right:3086,top:1512,bottom:1553,base:1602,font:52},omegaLevels,omegaColors,omegaCbarTicks,fmtOmega);
})();
// panel c
(function(){
  const box = {left:212,right:1398,top:1818,bottom:3074};
  const s = scales(box), p = plotGroup('c',box);
  drawEdges(p.plot,s,box,winterOzoneEdges,winterOzoneIslands);
  drawBarbs(p.plot,s,winterBarbSpeeds,winterBarbTilts);
  drawAxes(p.g,s,box,{yPad:18,yFont:50,xFont:51,xBase:3131});
  drawColorbar(p.g,{left:212,right:1398,top:3256,bottom:3298,base:3351,font:51},ozoneLevels,ozoneColors,ozoneCbarTicks,fmtOzone);
})();
// panel d
(function(){
  const box = {left:1817,right:3109,top:1773,bottom:3036};
  const s = scales(box), p = plotGroup('d',box);
  drawRegions(p.plot,s,box,winterOmegaRegions);
  drawContours(p.plot,s,winterLineValues,winterLinePaths,winterLineLabels,winterLineColorKeys,winterLineColors);
  drawAxes(p.g,s,box,{yPad:15,yFont:52,xFont:58,xBase:3095});
  drawColorbar(p.g,{left:1817,right:3109,top:3217,bottom:3260,base:3312,font:54},omegaLevels,omegaColors,omegaCbarTicks,fmtOmega);
})();
</script>
</body>
</html>
